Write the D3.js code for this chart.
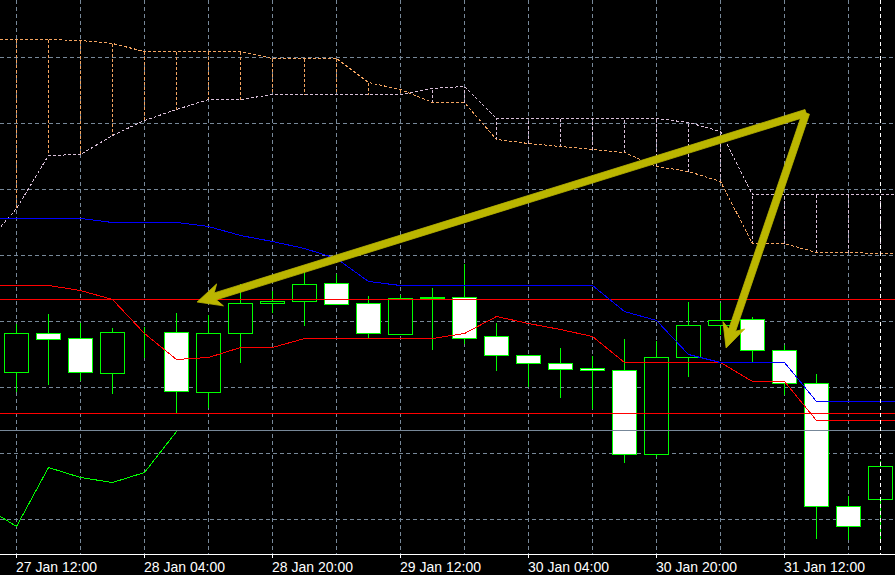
<!DOCTYPE html>
<html><head><meta charset="utf-8">
<script src="https://cdn.jsdelivr.net/npm/d3@7/dist/d3.min.js"></script>
<style>html,body{margin:0;padding:0;background:#000;overflow:hidden}svg{display:block}</style>
</head><body>
<svg id="chart" width="895" height="575"></svg>
<script>
// ---- data (H4 bars) ----
const barTimes = ["27 Jan 12:00","27 Jan 16:00","27 Jan 20:00","28 Jan 00:00","28 Jan 04:00","28 Jan 08:00",
  "28 Jan 12:00","28 Jan 16:00","28 Jan 20:00","29 Jan 00:00","29 Jan 04:00","29 Jan 08:00","29 Jan 12:00",
  "29 Jan 16:00","29 Jan 20:00","30 Jan 00:00","30 Jan 04:00","30 Jan 08:00","30 Jan 12:00","30 Jan 16:00",
  "30 Jan 20:00","31 Jan 00:00","31 Jan 04:00","31 Jan 08:00","31 Jan 12:00","31 Jan 16:00","31 Jan 20:00","1 Feb 00:00"];
const open  = [1.2628,1.2667,1.2662,1.2627,1.2668,1.2668,1.2608,1.2667,1.2697,1.2699,1.2717,1.2697,1.2666,1.2703,
  1.2703,1.2664,1.2645,1.2637,1.2632,1.2630,1.2546,1.2643,1.2675,1.2681,1.2650,1.2617,1.2494,1.2501];
const high  = [1.2677,1.2687,1.2678,1.2673,1.2674,1.2688,1.2686,1.2717,1.2710,1.2736,1.2727,1.2705,1.2706,1.2713,
  1.2737,1.2678,1.2646,1.2653,1.2645,1.2662,1.2660,1.2699,1.2698,1.2684,1.2656,1.2627,1.2505,1.2540];
const low   = [1.2609,1.2616,1.2620,1.2607,1.2643,1.2588,1.2593,1.2638,1.2688,1.2675,1.2696,1.2662,1.2666,1.2651,
  1.2657,1.2630,1.2614,1.2603,1.2592,1.2538,1.2544,1.2624,1.2666,1.2638,1.2606,1.2462,1.2461,1.2462];
const close = [1.2667,1.2661,1.2628,1.2668,1.2668,1.2609,1.2667,1.2697,1.2699,1.2716,1.2696,1.2667,1.2702,1.2702,
  1.2662,1.2645,1.2637,1.2631,1.2630,1.2546,1.2643,1.2675,1.2680,1.2650,1.2617,1.2494,1.2474,1.2534];

// Ichimoku lines, bar index -1 .. 28
const tenkan = [1.2715,1.2715,1.2715,1.2710,1.2701,1.2667,1.2641,1.2643,1.2653,1.2653,1.2662,1.2662,1.2662,1.2662,
  1.2662,1.2667,1.2684,1.2677,1.2671,1.2664,1.2638,1.2638,1.2638,1.2638,1.2619,1.2619,1.2580,1.2580,1.2580,1.2580];
const kijun  = [1.2782,1.2782,1.2782,1.2782,1.2778,1.2778,1.2778,1.2774,1.2765,1.2759,1.2752,1.2742,1.2719,1.2715,
  1.2715,1.2715,1.2715,1.2715,1.2715,1.2715,1.2689,1.2680,1.2646,1.2638,1.2638,1.2638,1.2599,1.2599,1.2599,1.2599];
const spanA  = [1.2961,1.2961,1.2961,1.2960,1.2957,1.2949,1.2949,1.2949,1.2949,1.2942,1.2942,1.2942,1.2918,1.2911,
  1.2898,1.2898,1.2861,1.2857,1.2854,1.2851,1.2848,1.2834,1.2829,1.2819,1.2757,1.2757,1.2748,1.2748,1.2747,1.2747];
const spanB  = [1.2755,1.2792,1.2845,1.2846,1.2865,1.2880,1.2891,1.2901,1.2901,1.2906,1.2906,1.2906,1.2906,1.2906,
  1.2912,1.2914,1.2882,1.2882,1.2882,1.2882,1.2882,1.2882,1.2878,1.2869,1.2806,1.2806,1.2806,1.2806,1.2806,1.2806];
// Chikou span, bar index -1 .. 5
const chikou = [1.2494,1.2474,1.2533,1.2523,1.2518,1.2528,1.2569];

const redLevels  = [1.2701, 1.2587];
const grayLevels = [1.2570];
const gridPrices = [1.2943,1.2877,1.2811,1.2745,1.2679,1.2613,1.2547,1.2481];
const tickLabels = ["27 Jan 12:00","28 Jan 04:00","28 Jan 20:00","29 Jan 12:00","30 Jan 04:00","30 Jan 20:00","31 Jan 12:00"];
const arrowFrom = [24.69, 1.2887];
const arrowTargets = [[5.66, 1.2698], [22.19, 1.2652]];

// ---- drawing ----
const W = 895, H = 575, axisY = 554;
const svg = d3.select("#chart");
const x = d3.scaleLinear().domain([0, 27]).range([16, 880]);
const y = d3.scaleLinear().domain([1.3, 1.2425]).range([0, 575]);
const px = v => Math.round(x(v)) + 0.5;
const py = v => Math.round(y(v)) + 0.5;

const GRID = "#778899", ORANGE = "#F4A460", THISTLE = "#D8BFD8", LIME = "#00FF00", OLIVE = "#bbb600";

svg.append("rect").attr("width", W).attr("height", H).attr("fill", "#000");

const g = svg.append("g").attr("shape-rendering", "crispEdges");

// grid
const gridIdx = barTimes.map((d, i) => i).filter(i => i % 2 === 0);
g.selectAll(".vg").data(gridIdx).join("line")
  .attr("x1", d => px(d)).attr("x2", d => px(d)).attr("y1", 0).attr("y2", axisY)
  .attr("stroke", GRID).attr("stroke-dasharray", "4,3");
g.selectAll(".hg").data(gridPrices).join("line")
  .attr("x1", 0).attr("x2", W).attr("y1", d => py(d)).attr("y2", d => py(d))
  .attr("stroke", GRID).attr("stroke-dasharray", "4,3");

// candles
const candles = barTimes.map((t, i) => ({i, o: open[i], h: high[i], l: low[i], c: close[i]}));
const cg = g.append("g");
cg.selectAll(".wick").data(candles).join("line")
  .attr("x1", d => px(d.i)).attr("x2", d => px(d.i))
  .attr("y1", d => py(d.h)).attr("y2", d => py(d.l))
  .attr("stroke", LIME);
cg.selectAll(".body").data(candles).join("rect")
  .attr("x", d => px(d.i) - 12).attr("width", 24)
  .attr("y", d => Math.min(py(d.o), py(d.c)))
  .attr("height", d => Math.abs(py(d.o) - py(d.c)))
  .attr("fill", d => d.c > d.o ? "#000" : "#fff")
  .attr("stroke", LIME);

// cloud histogram
const cloud = d3.range(0, 28).map(i => ({i, a: spanA[i + 1], b: spanB[i + 1]}));
g.selectAll(".cl").data(cloud).join("line")
  .attr("x1", d => px(d.i)).attr("x2", d => px(d.i))
  .attr("y1", d => py(d.a)).attr("y2", d => py(d.b))
  .attr("stroke", d => d.a > d.b ? ORANGE : THISTLE)
  .attr("stroke-dasharray", "3,2");

const lineOf = arr => d3.line().x((d, k) => px(k - 1)).y(d => py(d))(arr);
g.append("path").attr("d", lineOf(spanA)).attr("fill", "none").attr("stroke", ORANGE).attr("stroke-dasharray", "3,2");
g.append("path").attr("d", lineOf(spanB)).attr("fill", "none").attr("stroke", THISTLE).attr("stroke-dasharray", "3,2");

// horizontal levels
g.selectAll(".rl").data(redLevels).join("line")
  .attr("x1", 0).attr("x2", W).attr("y1", d => py(d)).attr("y2", d => py(d)).attr("stroke", "#ff0000");
g.selectAll(".gl").data(grayLevels).join("line")
  .attr("x1", 0).attr("x2", W).attr("y1", d => py(d)).attr("y2", d => py(d)).attr("stroke", GRID);

// chikou, tenkan, kijun
g.append("path").attr("d", lineOf(chikou)).attr("fill", "none").attr("stroke", LIME);
g.append("path").attr("d", lineOf(tenkan)).attr("fill", "none").attr("stroke", "#ff0000");
g.append("path").attr("d", lineOf(kijun)).attr("fill", "none").attr("stroke", "#0000ff");

// last bar marker
g.append("line").attr("x1", px(27)).attr("x2", px(27)).attr("y1", 0).attr("y2", axisY)
  .attr("stroke", "#fff").attr("stroke-dasharray", "4,3");

// arrows
function arrowPoly(s, e) {
  const dx = e[0] - s[0], dy = e[1] - s[1], len = Math.hypot(dx, dy);
  const ux = dx / len, uy = dy / len, nx = -uy, ny = ux;
  const w = 3.6, hw = 11.5, L = 24, notch = 19;
  const B = [e[0] - ux * L, e[1] - uy * L], N = [e[0] - ux * notch, e[1] - uy * notch];
  return [
    [s[0] + nx * w, s[1] + ny * w],
    [N[0] + nx * w, N[1] + ny * w],
    [B[0] + nx * hw, B[1] + ny * hw],
    e,
    [B[0] - nx * hw, B[1] - ny * hw],
    [N[0] - nx * w, N[1] - ny * w],
    [s[0] - nx * w, s[1] - ny * w]
  ];
}
const S = [x(arrowFrom[0]), y(arrowFrom[1])];
svg.selectAll(".arrow").data(arrowTargets).join("polygon")
  .attr("points", d => arrowPoly(S, [x(d[0]), y(d[1])]).map(p => p.join(",")).join(" "))
  .attr("fill", OLIVE).attr("stroke", OLIVE).attr("stroke-width", 0.8).attr("stroke-linejoin", "miter");

// time axis
const ax = svg.append("g").attr("shape-rendering", "crispEdges");
ax.append("rect").attr("x", 0).attr("y", axisY + 1).attr("width", W).attr("height", H - axisY).attr("fill", "#000");
ax.append("line").attr("x1", 0).attr("x2", W).attr("y1", axisY + 0.5).attr("y2", axisY + 0.5).attr("stroke", "#fff");
const ticks = tickLabels.map(t => ({t, i: barTimes.indexOf(t)}));
ax.selectAll(".tk").data(ticks).join("line")
  .attr("x1", d => px(d.i)).attr("x2", d => px(d.i)).attr("y1", axisY).attr("y2", axisY + 4).attr("stroke", "#fff");
svg.selectAll(".tl").data(ticks).join("text")
  .attr("x", d => Math.round(x(d.i))).attr("y", 572)
  .attr("fill", "#fff").attr("font-family", "'Liberation Sans', Arial, sans-serif").attr("font-size", 14)
  .text(d => d.t);
</script>
</body></html>
